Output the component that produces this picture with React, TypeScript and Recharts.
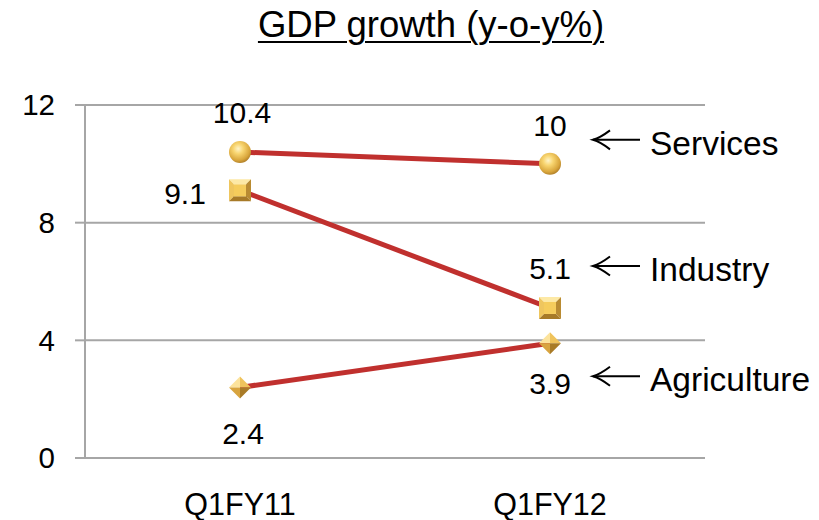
import React from "react";
import { LineChart, Line, XAxis, YAxis, CartesianGrid } from "recharts";

const categories = ["Q1FY11", "Q1FY12"];
const services = [10.4, 10];
const industry = [9.1, 5.1];
const agriculture = [2.4, 3.9];
const seriesNames = ["Services", "Industry", "Agriculture"];
const yTicks = [0, 4, 8, 12];
const xBoundaryTicks = [0, 1, 2];

const data = categories.map((c, i) => ({
  cat: c,
  services: services[i],
  industry: industry[i],
  agriculture: agriculture[i],
}));

const FONT = "'Liberation Sans', Arial, sans-serif";
const LINE = "#C0302E";
const GRID = "#A6A6A6";

// label offsets relative to the point (styling only)
const labelOffsets: Record<string, { dx: number; dy: number }[]> = {
  services: [{ dx: 2, dy: -40 }, { dx: 0, dy: -38 }],
  industry: [{ dx: -55, dy: 3 }, { dx: 0, dy: -39 }],
  agriculture: [{ dx: 3, dy: 46 }, { dx: 0, dy: 40 }],
};
const annotOffsets: Record<string, { arrowDy: number; textDy: number }> = {
  services: { arrowDy: -24, textDy: -9 },
  industry: { arrowDy: -42, textDy: -27 },
  agriculture: { arrowDy: 33, textDy: 48 },
};

function Sphere(props: any) {
  const { cx, cy, index } = props;
  if (cx == null || cy == null) return null;
  const id = `sph-${index}`;
  return (
    <g>
      <defs>
        <radialGradient id={id} cx="42%" cy="35%" r="65%">
          <stop offset="0%" stopColor="#FFF4C8" />
          <stop offset="35%" stopColor="#F8D570" />
          <stop offset="80%" stopColor="#D9A63C" />
          <stop offset="100%" stopColor="#B4832B" />
        </radialGradient>
      </defs>
      <circle cx={cx} cy={cy} r={11} fill={`url(#${id})`} />
    </g>
  );
}

function Square(props: any) {
  const { cx, cy } = props;
  if (cx == null || cy == null) return null;
  const h = 11;
  const i = 6;
  const x0 = cx - h, x1 = cx + h, y0 = cy - h, y1 = cy + h;
  const ix0 = cx - i, ix1 = cx + i, iy0 = cy - i, iy1 = cy + i;
  return (
    <g>
      <polygon points={`${x0},${y0} ${x1},${y0} ${ix1},${iy0} ${ix0},${iy0}`} fill="#FDE9A6" />
      <polygon points={`${x0},${y0} ${ix0},${iy0} ${ix0},${iy1} ${x0},${y1}`} fill="#EFC65E" />
      <polygon points={`${x1},${y0} ${x1},${y1} ${ix1},${iy1} ${ix1},${iy0}`} fill="#B98B32" />
      <polygon points={`${x0},${y1} ${ix0},${iy1} ${ix1},${iy1} ${x1},${y1}`} fill="#A77A28" />
      <rect x={ix0} y={iy0} width={i * 2} height={i * 2} fill="#F5CC5C" />
    </g>
  );
}

function Diamond(props: any) {
  const { cx, cy } = props;
  if (cx == null || cy == null) return null;
  const h = 11;
  return (
    <g>
      <polygon points={`${cx - h},${cy} ${cx},${cy - h} ${cx},${cy}`} fill="#FCE39C" />
      <polygon points={`${cx},${cy - h} ${cx + h},${cy} ${cx},${cy}`} fill="#EFC35C" />
      <polygon points={`${cx - h},${cy} ${cx},${cy + h} ${cx},${cy}`} fill="#D8A43F" />
      <polygon points={`${cx},${cy + h} ${cx + h},${cy} ${cx},${cy}`} fill="#A97B27" />
    </g>
  );
}

function makeLabel(key: string, name: string) {
  return (props: any) => {
    const { x, y, value, index } = props;
    if (x == null || y == null) return null;
    const off = labelOffsets[key][index];
    const isLast = index === categories.length - 1;
    const a = annotOffsets[key];
    const ay = y + a.arrowDy;
    return (
      <g>
        <text
          x={x + off.dx}
          y={y + off.dy}
          textAnchor="middle"
          dominantBaseline="central"
          fontFamily={FONT}
          fontSize={30}
          fill="#000"
        >
          {value}
        </text>
        {isLast && (
          <g>
            <line x1={x + 43} y1={ay} x2={x + 90} y2={ay} stroke="#000" strokeWidth={2} />
            <path
              d={`M ${x + 60} ${ay - 9.5} Q ${x + 50} ${ay - 2} ${x + 43} ${ay} Q ${x + 50} ${ay + 2} ${x + 60} ${ay + 9.5}`}
              fill="none"
              stroke="#000"
              strokeWidth={2}
            />
            <text x={x + 100} y={y + a.textDy} fontFamily={FONT} fontSize={33.5} fill="#000">
              {name}
            </text>
          </g>
        )}
      </g>
    );
  };
}

export default function App() {
  return (
    <div style={{ position: "relative", width: 819, height: 520, background: "#fff" }}>
      <style>{`body{margin:0;}`}</style>
      <div
        style={{
          position: "absolute",
          left: 0,
          top: 5,
          width: 862,
          textAlign: "center",
          fontFamily: FONT,
          fontSize: 36.5,
          lineHeight: "40px",
          textDecoration: "underline",
          textDecorationThickness: "2px",
          textUnderlineOffset: "4px",
          color: "#000",
        }}
      >
        GDP growth (y-o-y%)
      </div>
      <LineChart
        width={819}
        height={520}
        data={data}
        margin={{ top: 105, right: 114, bottom: 0, left: 0 }}
      >
        <CartesianGrid vertical={false} stroke={GRID} strokeWidth={2} />
        <XAxis
          xAxisId="bounds"
          type="number"
          domain={[0, 2]}
          ticks={xBoundaryTicks}
          tick={false}
          height={12}
          tickSize={9}
          axisLine={{ stroke: GRID, strokeWidth: 2 }}
          tickLine={{ stroke: GRID, strokeWidth: 2 }}
          allowDataOverflow
        />
        <XAxis
          xAxisId="cat"
          dataKey="cat"
          scale="band"
          height={50}
          axisLine={false}
          tickLine={false}
          tickMargin={17}
          tick={{ fontFamily: FONT, fontSize: 30.5, fill: "#000" }}
        />
        <YAxis
          domain={[0, 12]}
          ticks={yTicks}
          width={85}
          tickSize={10}
          tickMargin={20}
          axisLine={{ stroke: GRID, strokeWidth: 2 }}
          tickLine={{ stroke: GRID, strokeWidth: 2 }}
          tick={{ fontFamily: FONT, fontSize: 29.5, fill: "#000" }}
        />
        <Line
          xAxisId="cat"
          dataKey="services"
          stroke={LINE}
          strokeWidth={5}
          dot={Sphere}
          activeDot={false}
          label={makeLabel("services", seriesNames[0])}
          isAnimationActive={false}
        />
        <Line
          xAxisId="cat"
          dataKey="industry"
          stroke={LINE}
          strokeWidth={5}
          dot={Square}
          activeDot={false}
          label={makeLabel("industry", seriesNames[1])}
          isAnimationActive={false}
        />
        <Line
          xAxisId="cat"
          dataKey="agriculture"
          stroke={LINE}
          strokeWidth={5}
          dot={Diamond}
          activeDot={false}
          label={makeLabel("agriculture", seriesNames[2])}
          isAnimationActive={false}
        />
      </LineChart>
    </div>
  );
}
